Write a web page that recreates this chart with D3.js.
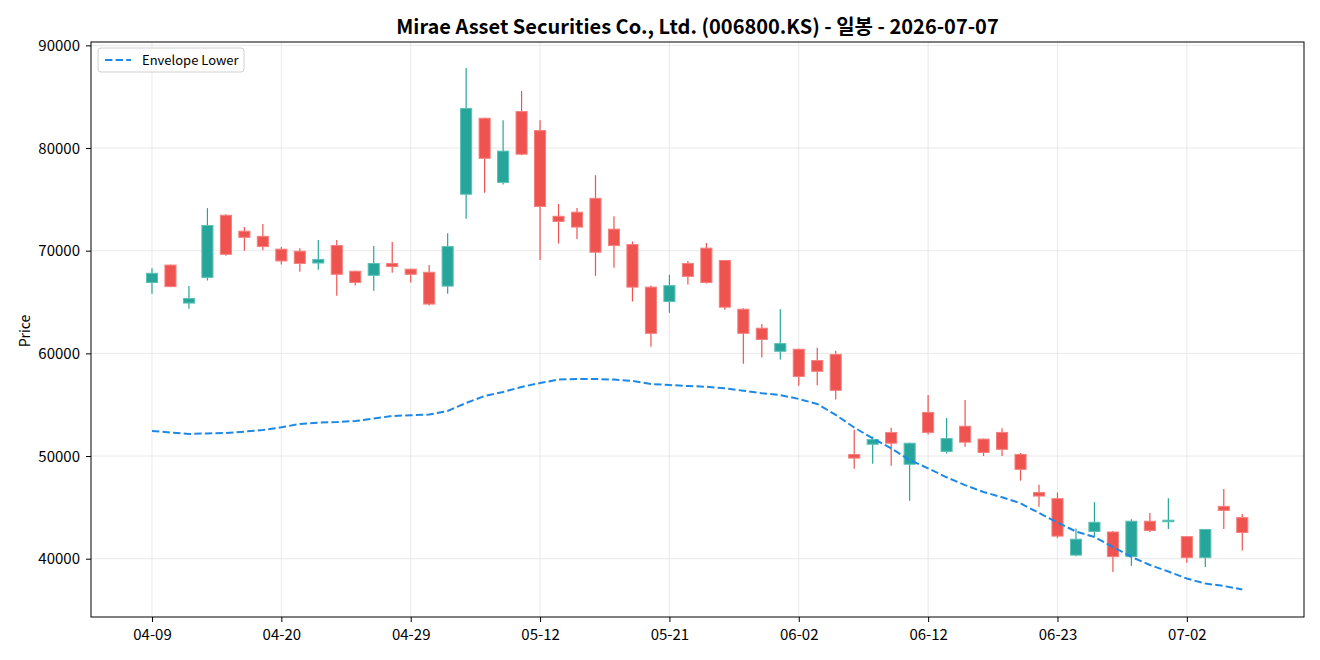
<!DOCTYPE html>
<html><head><meta charset="utf-8">
<script src="https://cdn.jsdelivr.net/npm/d3@7"></script>
<style>
html,body{margin:0;padding:0;background:#fff;}
text{font-family:"Noto Sans CJK KR","Noto Sans",sans-serif;}
</style></head>
<body><svg id="chart" width="1320" height="660"></svg>
<script>
const dates = ["04-09","04-10","04-13","04-14","04-15","04-16","04-17","04-20","04-21","04-22",
"04-23","04-24","04-27","04-28","04-29","04-30","05-04","05-06","05-07","05-08",
"05-11","05-12","05-13","05-14","05-15","05-18","05-19","05-20","05-21","05-22",
"05-26","05-27","05-28","05-29","06-01","06-02","06-04","06-05","06-08","06-09",
"06-10","06-11","06-12","06-15","06-16","06-17","06-18","06-19","06-22","06-23",
"06-24","06-25","06-26","06-29","06-30","07-01","07-02","07-03","07-06","07-07"];
const open = [66900,68600,64900,67400,73450,71900,71400,70150,69950,68800,
70500,68000,67600,68750,68200,67900,66550,75500,82900,76650,
83550,81700,73350,73750,75100,72100,70600,66450,65050,68750,
70250,69050,64300,62450,60200,60400,59300,59900,50150,51150,
52300,49200,54250,50450,52900,51650,52300,50150,46450,45850,
40350,42650,42600,40200,43650,43600,42150,40100,45100,44000];
const high = [68300,68650,66550,74150,73550,72300,72600,70350,70250,71050,
71050,68050,70450,70850,68250,68600,71700,87800,82950,82700,
85550,82700,74550,74150,77350,73350,70900,66600,67650,69000,
70750,69100,64400,62850,64300,60450,60550,60250,52550,51900,
52750,51300,55950,53700,55450,51700,52700,50300,47200,46450,
42950,45500,42700,43850,44450,45900,42200,42900,46800,44350];
const low = [65800,66450,64350,67100,69500,70000,70050,68650,67950,68150,
65600,66600,66100,67850,66900,64650,65800,73100,75650,76450,
79300,69100,70700,71150,67550,68350,65050,60650,63950,66700,
66800,64250,59000,59600,59400,56850,56900,55500,48750,49250,
49050,45650,52100,50250,50900,50000,50000,47600,45050,42000,
40250,42200,38700,39300,42600,42900,39600,39200,42900,40800];
const close = [67800,66500,65350,72450,69650,71300,70400,69000,68750,69150,
67700,66900,68750,68450,67700,64800,70400,83850,79000,79700,
79400,74300,72850,72300,69850,70500,66450,61950,66600,67500,
66900,64500,61950,61350,60950,57750,58250,56400,49800,51600,
51250,51250,52300,51700,51350,50350,50650,48700,46100,42200,
41900,43550,40200,43650,42750,43750,40100,42850,44700,42550];
const envLower = [52440,52300,52150,52200,52240,52380,52530,52800,53120,53250,
53310,53410,53650,53900,53970,54040,54390,55170,55850,56240,
56730,57110,57450,57500,57500,57450,57310,57020,56920,56820,
56750,56600,56360,56110,55940,55560,55070,54000,52780,51720,
50750,49610,48800,47930,47170,46500,45980,45400,44450,43530,
42650,42110,41140,40170,39390,38750,38070,37580,37340,37000];
const yTicks = [40000,50000,60000,70000,80000,90000];
const xTickIdx = [0,7,14,21,28,35,42,49,56];
const titleText = "Mirae Asset Securities Co., Ltd. (006800.KS) - 일봉 - 2026-07-07";

const svg = d3.select("#chart");
const L=91,R=1304,T=42,B=617;
const x = d3.scaleLinear().domain([-3.30,62.34]).range([L,R]);
const y = d3.scaleLinear().domain([34322,90327]).range([B,T]);
const up="#26a69a", dn="#ef5350";

// grid
const g = svg.append("g");
g.selectAll("line.gy").data(yTicks).join("line")
  .attr("x1",L).attr("x2",R).attr("y1",d=>y(d)).attr("y2",d=>y(d))
  .attr("stroke","#e3e3e3").attr("stroke-width",0.8);
g.selectAll("line.gx").data(xTickIdx).join("line")
  .attr("y1",T).attr("y2",B).attr("x1",d=>x(d)).attr("x2",d=>x(d))
  .attr("stroke","#e3e3e3").attr("stroke-width",0.8);

const data = dates.map((d,i)=>({i,o:open[i],h:high[i],l:low[i],c:close[i]}));
const bw = x(0.3)-x(0);
const cg = svg.append("g");
cg.selectAll("line.w").data(data).join("line")
  .attr("x1",d=>x(d.i)).attr("x2",d=>x(d.i))
  .attr("y1",d=>y(d.h)).attr("y2",d=>y(d.l))
  .attr("stroke",d=>d.c>=d.o?up:dn).attr("stroke-width",1.2);
cg.selectAll("rect").data(data).join("rect")
  .attr("x",d=>x(d.i)-bw).attr("width",2*bw)
  .attr("y",d=>y(Math.max(d.o,d.c)))
  .attr("height",d=>Math.max(1,Math.abs(y(d.o)-y(d.c))))
  .attr("fill",d=>d.c>=d.o?up:dn)
  .attr("stroke",d=>d.c>=d.o?"#5cc0b5":"#f4807d").attr("stroke-width",1);

// envelope
const line = d3.line().x((d,i)=>x(i)).y(d=>y(d));
svg.append("path").datum(envLower).attr("d",line)
  .attr("fill","none").attr("stroke","#1e88e5").attr("stroke-width",2)
  .attr("stroke-dasharray","7.4,3.2");

// axes
const xa = svg.append("g").attr("transform",`translate(0,${B})`)
  .call(d3.axisBottom(x).tickValues(xTickIdx).tickFormat(d=>dates[d]).tickSize(5).tickSizeOuter(0));
const ya = svg.append("g").attr("transform",`translate(${L},0)`)
  .call(d3.axisLeft(y).tickValues(yTicks).tickFormat(d3.format("d")).tickSize(5).tickSizeOuter(0));
[xa,ya].forEach(a=>{a.select(".domain").remove();
  a.selectAll("text").attr("font-size","15px").attr("fill","#000").style("font-family","'Noto Sans CJK KR',sans-serif");
  a.selectAll("line").attr("stroke","#000");});
xa.selectAll("text").attr("y",23).attr("dy",0);
ya.selectAll("text").attr("x",-11).attr("dy","0.34em");

svg.append("rect").attr("x",L).attr("y",T).attr("width",R-L).attr("height",B-T)
  .attr("fill","none").attr("stroke","#000").attr("stroke-width",1);

svg.append("text").attr("x",(L+R)/2).attr("y",33.5).attr("text-anchor","middle")
  .attr("font-size","20px").attr("font-weight","bold").text(titleText);
svg.append("text").attr("transform","translate(30,331) rotate(-90)").attr("text-anchor","middle")
  .attr("font-size","14px").text("Price");

// legend
const lg = svg.append("g");
lg.append("rect").attr("x",98).attr("y",48).attr("width",146).attr("height",24).attr("rx",3)
  .attr("fill","#fff").attr("fill-opacity",0.8).attr("stroke","#d0d0d0");
lg.append("line").attr("x1",105).attr("x2",131).attr("y1",60).attr("y2",60)
  .attr("stroke","#1e88e5").attr("stroke-width",2).attr("stroke-dasharray","7.4,3.2");
lg.append("text").attr("x",142).attr("y",64.5).attr("font-size","13px").text("Envelope Lower");
</script></body></html>
